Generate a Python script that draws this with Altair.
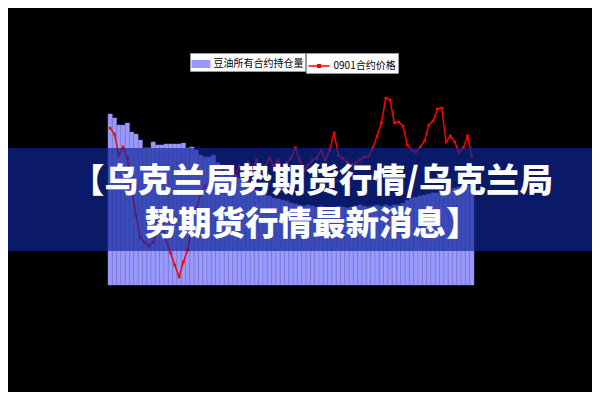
import altair as alt
import pandas as pd

# ---- data ----
days = list(range(1, 86))

holdings = [570000, 557000, 533000, 533000, 540000, 510000, 503000, 483000, 457000, 457000,
            477000, 467000, 467000, 470000, 470000, 470000, 470000, 473000, 457000, 460000,
            450000, 433000, 427000, 427000, 433000, 407000, 400000, 390000, 377000, 367000,
            357000, 343000, 333000, 323000, 317000, 310000, 300000, 297000, 290000, 287000,
            283000, 280000, 273000, 270000, 267000, 263000, 267000, 263000, 260000, 263000,
            260000, 257000, 260000, 263000, 260000, 257000, 260000, 263000, 267000, 263000,
            260000, 263000, 267000, 263000, 267000, 263000, 267000, 267000, 273000, 283000,
            290000, 293000, 297000, 300000, 303000, 307000, 307000, 310000, 307000, 317000,
            323000, 327000, 330000, 333000, 317000]

price = [11230, 11030, 10330, 10600, 10230, 9170, 8330, 7570, 7430, 7300,
         7430, 7770, 8100, 7500, 7070, 6670, 6270, 6770, 7170, 8030,
         8570, 9000, 9300, 9430, 9570, 9700, 9830, 9670, 9900, 9630,
         9970, 9770, 10100, 9830, 10170, 9730, 9970, 10230, 9970, 10170,
         9830, 10070, 10230, 10570, 10170, 9830, 10000, 10170, 10230, 10500,
         10170, 10500, 11070, 10330, 10230, 10100, 10000, 10070, 10170, 10270,
         10270, 10570, 10970, 11400, 12230, 12170, 11400, 11430, 11300, 10670,
         10500, 10430, 10600, 10800, 11330, 11470, 11870, 11900, 10770, 10970,
         10770, 10430, 10570, 10970, 10270]

series_names = ["豆油所有合约持仓量", "0901合约价格"]
title_lines = ["【乌克兰局势期货行情/乌克兰局", "势期货行情最新消息】"]

df = pd.DataFrame({"day": days, "holdings": holdings, "price": price,
                   "s1": series_names[0], "s2": series_names[1]})
one = pd.DataFrame({"k": [0]})

legend_font = "Noto Sans CJK SC"

x_enc = alt.X("day:O", axis=None, scale=alt.Scale(paddingInner=0, paddingOuter=0))

bars = alt.Chart(df).mark_bar(stroke="#7f7fd8", strokeWidth=0.5).encode(
    x=x_enc,
    y=alt.Y("holdings:Q", axis=None, scale=alt.Scale(domain=[0, 700000])),
    color=alt.Color("s1:N", scale=alt.Scale(domain=[series_names[0]], range=["#9999ff"]),
                    legend=alt.Legend(title=None, orient="none", legendX=82, legendY=-22,
                                      fillColor="white", strokeColor="#999999", padding=1.5,
                                      symbolType="M-1,-0.42H1V0.42H-1Z", symbolSize=361,
                                      symbolStrokeWidth=0, labelFont=legend_font,
                                      labelFontSize=10, labelColor="black", labelOffset=3)),
)

line = alt.Chart(df).mark_line(strokeWidth=1.5).encode(
    x=x_enc,
    y=alt.Y("price:Q", axis=None, scale=alt.Scale(domain=[6000, 13000])),
    stroke=alt.Stroke("s2:N", scale=alt.Scale(domain=[series_names[1]], range=["#ff0000"]),
                      legend=alt.Legend(title=None, orient="none", legendX=198, legendY=-22,
                                        fillColor="white", strokeColor="#999999", padding=1.5,
                                        symbolType="M-1,0H1M-0.12,-0.12H0.12V0.12H-0.12Z",
                                        symbolSize=441, symbolStrokeWidth=1.5,
                                        symbolFillColor="#ff0000",
                                        labelFont=legend_font, labelFontSize=10,
                                        labelColor="black", labelOffset=3)),
)

points = alt.Chart(df).mark_square(size=7, color="#ff0000", opacity=1).encode(
    x=x_enc,
    y=alt.Y("price:Q", axis=None, scale=alt.Scale(domain=[6000, 13000])),
)

banner = alt.Chart(one).mark_rect(color="#10269a", opacity=0.68).encode(
    x=alt.value(-100), x2=alt.value(484), y=alt.value(73), y2=alt.value(176)
)

title = alt.Chart(one).mark_text(font="Noto Sans CJK SC", fontSize=33.5, fontWeight=900,
                                 color="white", align="center", baseline="middle",
                                 lineHeight=42.5).encode(
    x=alt.value(204), y=alt.value(107), text=alt.value(title_lines)
)

chart = alt.layer(bars, line, points, banner, title).resolve_scale(
    y="independent"
).properties(
    width=366, height=210,
    autosize=alt.AutoSizeParams(type="none"),
    padding={"left": 100, "top": 67, "right": 118, "bottom": 107},
    background="#000000",
).configure_view(strokeWidth=0)

chart.save("out.html", embed_options={"renderer": "svg", "actions": False})
